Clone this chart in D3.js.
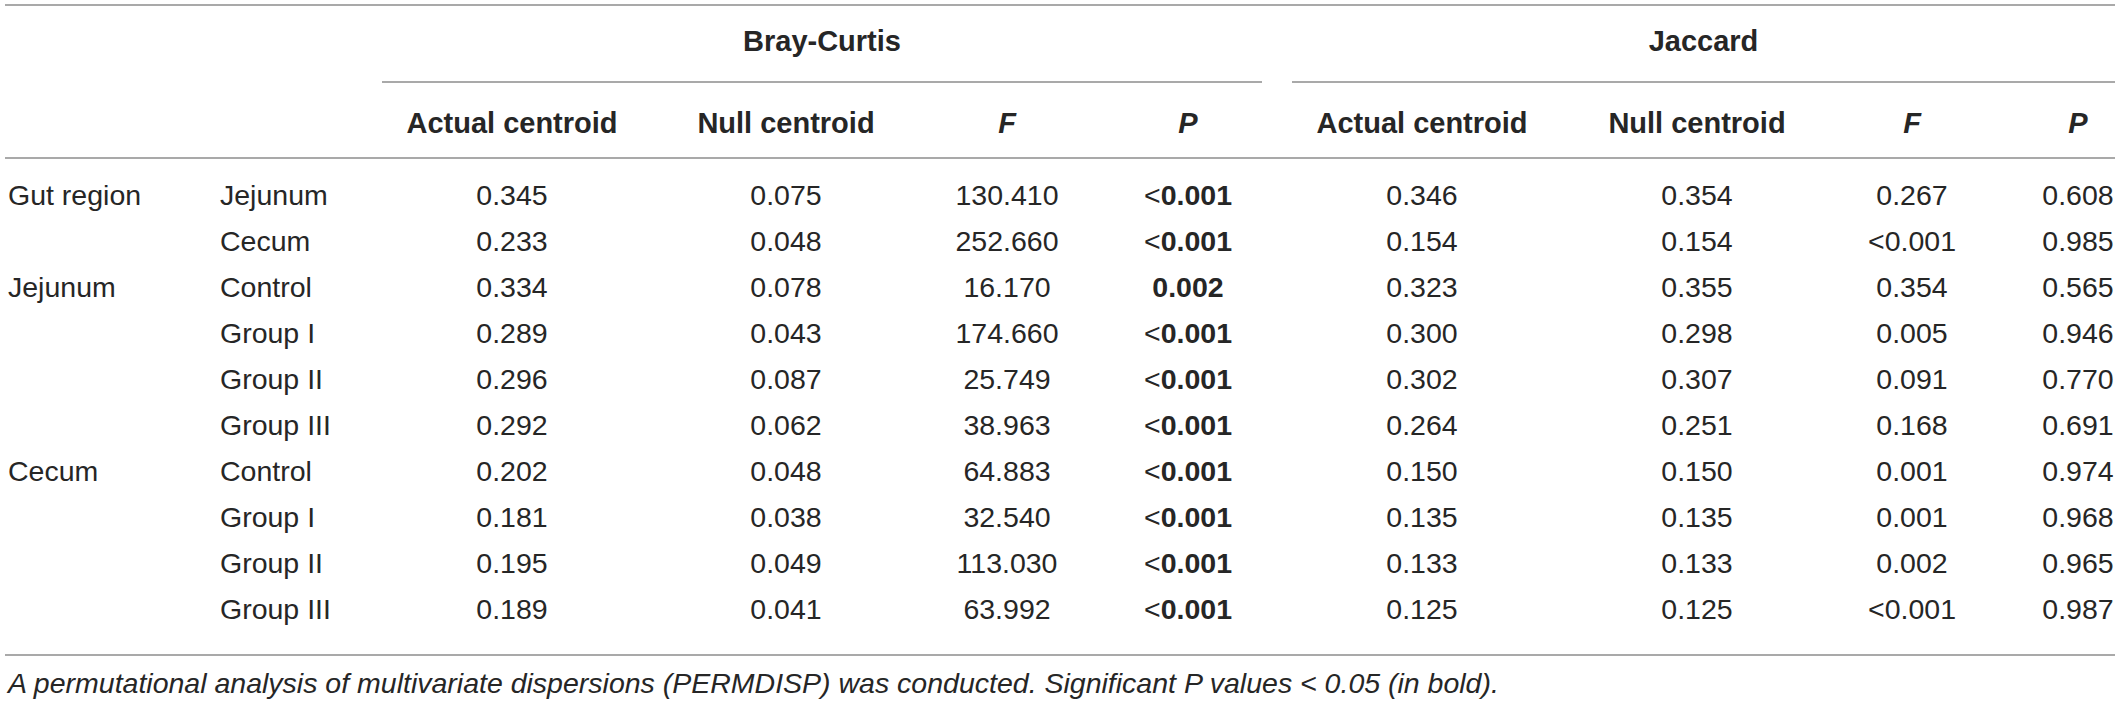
<!DOCTYPE html>
<html>
<head>
<meta charset="utf-8">
<script src="https://cdn.jsdelivr.net/npm/d3@7"></script>
<style>
  body { margin: 0; background: #fff; }
  text { font-family: "Liberation Sans", Arial, Helvetica, sans-serif; }
</style>
</head>
<body>
<div id="chart"></div>
<script>
// row labels
var sectionLabels = ["Gut region", "", "Jejunum", "", "", "", "Cecum", "", "", ""];
var subLabels = ["Jejunum", "Cecum", "Control", "Group I", "Group II", "Group III", "Control", "Group I", "Group II", "Group III"];

// Bray-Curtis
var bcActual = ["0.345", "0.233", "0.334", "0.289", "0.296", "0.292", "0.202", "0.181", "0.195", "0.189"];
var bcNull = ["0.075", "0.048", "0.078", "0.043", "0.087", "0.062", "0.048", "0.038", "0.049", "0.041"];
var bcF = ["130.410", "252.660", "16.170", "174.660", "25.749", "38.963", "64.883", "32.540", "113.030", "63.992"];
var bcP = ["<0.001", "<0.001", "0.002", "<0.001", "<0.001", "<0.001", "<0.001", "<0.001", "<0.001", "<0.001"];

// Jaccard
var jcActual = ["0.346", "0.154", "0.323", "0.300", "0.302", "0.264", "0.150", "0.135", "0.133", "0.125"];
var jcNull = ["0.354", "0.154", "0.355", "0.298", "0.307", "0.251", "0.150", "0.135", "0.133", "0.125"];
var jcF = ["0.267", "<0.001", "0.354", "0.005", "0.091", "0.168", "0.001", "0.001", "0.002", "<0.001"];
var jcP = ["0.608", "0.985", "0.565", "0.946", "0.770", "0.691", "0.974", "0.968", "0.965", "0.987"];

var groupNames = ["Bray-Curtis", "Jaccard"];
var colHeads = ["Actual centroid", "Null centroid", "F", "P"];
var caption = "A permutational analysis of multivariate dispersions (PERMDISP) was conducted. Significant P values < 0.05 (in bold).";

var w = 2120;
var h = 704;

var svg = d3.select("#chart")
    .append("svg")
    .attr("width", w)
    .attr("height", h);

var lineColor = "#8c8c8c";
var textColor = "#262626";
var bodySize = 28.5;
var headSize = 29;

// column centres
var colX = d3.scaleOrdinal()
    .domain(["bcActual", "bcNull", "bcF", "bcP", "jcActual", "jcNull", "jcF", "jcP"])
    .range([512, 786, 1007, 1188, 1422, 1697, 1912, 2078]);

// row baselines
var rowY = d3.scaleLinear()
    .domain([0, 9])
    .range([205, 619]);

function hline(x1, x2, y) {
    svg.append("line")
        .attr("x1", x1).attr("x2", x2)
        .attr("y1", y).attr("y2", y)
        .attr("stroke", lineColor)
        .attr("stroke-width", 1.6);
}

hline(5, 2115, 5);
hline(382, 1262, 82);
hline(1292, 2115, 82);
hline(5, 2115, 158);
hline(5, 2115, 655);

// group headers
svg.selectAll(".grp")
    .data(groupNames)
    .enter()
    .append("text")
    .attr("class", "grp")
    .attr("x", function (d, i) { return i == 0 ? (382 + 1262) / 2 : (1292 + 2115) / 2; })
    .attr("y", 51)
    .attr("text-anchor", "middle")
    .attr("font-size", headSize)
    .attr("font-weight", "bold")
    .attr("fill", textColor)
    .text(function (d) { return d; });

// column headers
var prefixes = ["bc", "jc"];
var keys = ["Actual", "Null", "F", "P"];
prefixes.forEach(function (p) {
    svg.selectAll(".head-" + p)
        .data(colHeads)
        .enter()
        .append("text")
        .attr("class", "head-" + p)
        .attr("x", function (d, i) { return colX(p + keys[i]); })
        .attr("y", 133)
        .attr("text-anchor", "middle")
        .attr("font-size", headSize)
        .attr("font-weight", "bold")
        .attr("font-style", function (d) { return d.length == 1 ? "italic" : "normal"; })
        .attr("fill", textColor)
        .text(function (d) { return d; });
});

// row label columns
svg.selectAll(".sec")
    .data(sectionLabels)
    .enter()
    .append("text")
    .attr("x", 8)
    .attr("y", function (d, i) { return rowY(i); })
    .attr("font-size", bodySize)
    .attr("fill", textColor)
    .text(function (d) { return d; });

svg.selectAll(".sub")
    .data(subLabels)
    .enter()
    .append("text")
    .attr("x", 220)
    .attr("y", function (d, i) { return rowY(i); })
    .attr("font-size", bodySize)
    .attr("fill", textColor)
    .text(function (d) { return d; });

// value columns
var columns = {
    bcActual: bcActual, bcNull: bcNull, bcF: bcF, bcP: bcP,
    jcActual: jcActual, jcNull: jcNull, jcF: jcF, jcP: jcP
};

Object.keys(columns).forEach(function (key) {
    var isP = key.slice(-1) == "P";
    var cells = svg.selectAll(".c-" + key)
        .data(columns[key])
        .enter()
        .append("text")
        .attr("x", colX(key))
        .attr("y", function (d, i) { return rowY(i); })
        .attr("text-anchor", "middle")
        .attr("font-size", bodySize)
        .attr("fill", textColor);

    cells.each(function (d) {
        var t = d3.select(this);
        var sig = isP && (d.charAt(0) == "<" || parseFloat(d) < 0.05);
        if (d.charAt(0) == "<") {
            t.append("tspan").text("<");
            t.append("tspan")
                .attr("font-weight", sig ? "bold" : "normal")
                .text(d.slice(1));
        } else {
            t.attr("font-weight", sig ? "bold" : "normal").text(d);
        }
    });
});

// footnote
svg.append("text")
    .attr("x", 8)
    .attr("y", 693)
    .attr("font-size", bodySize)
    .attr("font-style", "italic")
    .attr("fill", textColor)
    .text(caption);
</script>
</body>
</html>
